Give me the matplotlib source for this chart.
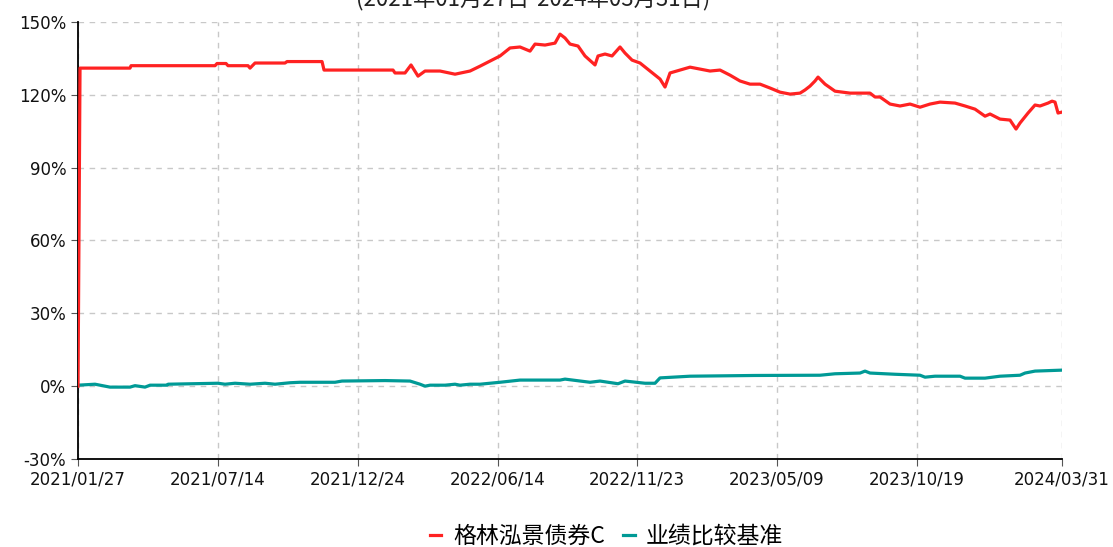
import matplotlib.pyplot as plt
import numpy as np

plt.rcParams['font.family'] = ['DejaVu Sans']

# x positions are trading-day index positions along the axis (0 .. 984)
red_x = [0, 2, 52, 53, 137, 139, 148, 150, 170, 172,
         177, 207, 209, 244, 246, 315, 317, 327, 333, 340,
         347, 362, 377, 392, 402, 412, 422, 432, 442, 452,
         457, 467, 477, 482, 487, 492, 500, 507, 517, 520,
         527, 534, 542, 547, 554, 562, 572, 582, 587, 592,
         602, 612, 622, 632, 642, 652, 662, 672, 682, 692,
         702, 712, 722, 727, 732, 737, 740, 747, 757, 772,
         792, 797, 802, 812, 822, 832, 842, 852, 862, 877,
         887, 897, 907, 912, 922, 932, 938, 942, 950, 957,
         962, 970, 974, 977, 980, 984]
red_y = [0, 131.0, 131.0, 132.0, 132.0, 132.9, 132.9, 132.0, 132.0, 131.0,
         133.1, 133.1, 133.7, 133.7, 130.2, 130.2, 129.0, 129.0, 132.3, 127.7,
         129.8, 129.8, 128.5, 129.8, 131.8, 133.9, 136.0, 139.3, 139.7, 138.0,
         140.9, 140.5, 141.3, 145.0, 143.4, 140.9, 140.1, 136.0, 132.3, 136.0,
         136.8, 136.0, 139.7, 137.2, 134.3, 133.1, 129.8, 126.5, 123.2, 129.0,
         130.2, 131.4, 130.6, 129.8, 130.2, 128.1, 125.7, 124.4, 124.4, 122.8,
         121.1, 120.3, 120.7, 122.0, 123.6, 125.7, 127.3, 124.4, 121.5, 120.7,
         120.7, 119.1, 119.1, 116.2, 115.4, 116.2, 114.9, 116.2, 117.0, 116.6,
         115.4, 114.1, 111.2, 112.1, 110.0, 109.6, 105.9, 108.4, 112.5, 115.8,
         115.4, 116.6, 117.4, 117.0, 112.5, 112.9]

teal_x = [0, 17, 27, 32, 52, 57, 67, 72, 89, 90, 140, 147, 157, 172, 187, 197,
          212, 222, 257, 264, 307, 332, 342, 347, 352, 367, 377, 382, 392, 402,
          422, 442, 482, 487, 512, 522, 540, 547, 567, 577, 582, 612, 677, 742,
          757, 782, 787, 792, 817, 842, 847, 857, 882, 887, 907, 922, 942, 947,
          957, 984]
teal_y = [0.4, 0.8, 0.0, -0.4, -0.4, 0.2, -0.4, 0.4, 0.4, 0.8, 1.2, 0.8, 1.2,
          0.8, 1.2, 0.8, 1.4, 1.6, 1.6, 2.1, 2.3, 2.1, 0.8, 0.0, 0.4, 0.4, 0.8,
          0.4, 0.8, 0.8, 1.6, 2.5, 2.5, 2.9, 1.6, 2.1, 1.0, 2.1, 1.2, 1.2, 3.4,
          4.1, 4.4, 4.5, 5.1, 5.4, 6.2, 5.4, 4.9, 4.5, 3.7, 4.1, 4.1, 3.3, 3.3,
          4.1, 4.5, 5.4, 6.2, 6.6]

tick_pos = [0, 140, 280, 420, 559, 699, 839, 984]
tick_labels = ['2021/01/27', '2021/07/14', '2021/12/24', '2022/06/14',
               '2022/11/23', '2023/05/09', '2023/10/19', '2024/03/31']
y_ticks = [-30, 0, 30, 60, 90, 120, 150]

fund_name = '格林泓景债券C'
bench_name = '业绩比较基准'
subtitle = '(2021年01月27日-2024年03月31日)'

f = plt.figure(figsize=(11.13, 5.47), dpi=100)
ax = f.add_axes([0.0701, 0.1609, 0.8841, 0.7989])

ax.plot(teal_x, teal_y, color='#009a96', lw=2.3, label=bench_name, zorder=3)
ax.plot(red_x, red_y, color='#ff2222', lw=2.3, label=fund_name, zorder=4)

ax.set_xlim(0, 984)
ax.set_ylim(-30, 150)
ax.set_xticks(tick_pos)
ax.set_xticklabels(tick_labels)
ax.set_yticks(y_ticks)
ax.set_yticklabels([str(v) + '%' for v in y_ticks])
ax.tick_params(labelsize=12, length=5, color='#555555', labelcolor='#111111')

ax.grid(True, color='#c8c8c8', linestyle=(0, (4, 4)), lw=1)
ax.spines['top'].set_visible(False)
ax.spines['right'].set_visible(False)
ax.spines['left'].set_linewidth(1.3)
ax.spines['bottom'].set_linewidth(1.3)

# subtitle is clipped at the top edge, as in the original
f.text(0.479, 1 - 5 / 547, subtitle, ha='center', va='baseline', fontsize=16,
       family=['Noto Sans CJK SC', 'DejaVu Sans'], color='#222222')

h, l = ax.get_legend_handles_labels()
f.legend(h[::-1], l[::-1], loc='center', bbox_to_anchor=(0.545, 0.02),
         ncol=2, frameon=False, handlelength=0.5, handletextpad=0.5,
         columnspacing=0.8, prop={'family': ['Noto Sans CJK SC', 'DejaVu Sans'], 'size': 16.5})

f.savefig('out.png', dpi=100)
